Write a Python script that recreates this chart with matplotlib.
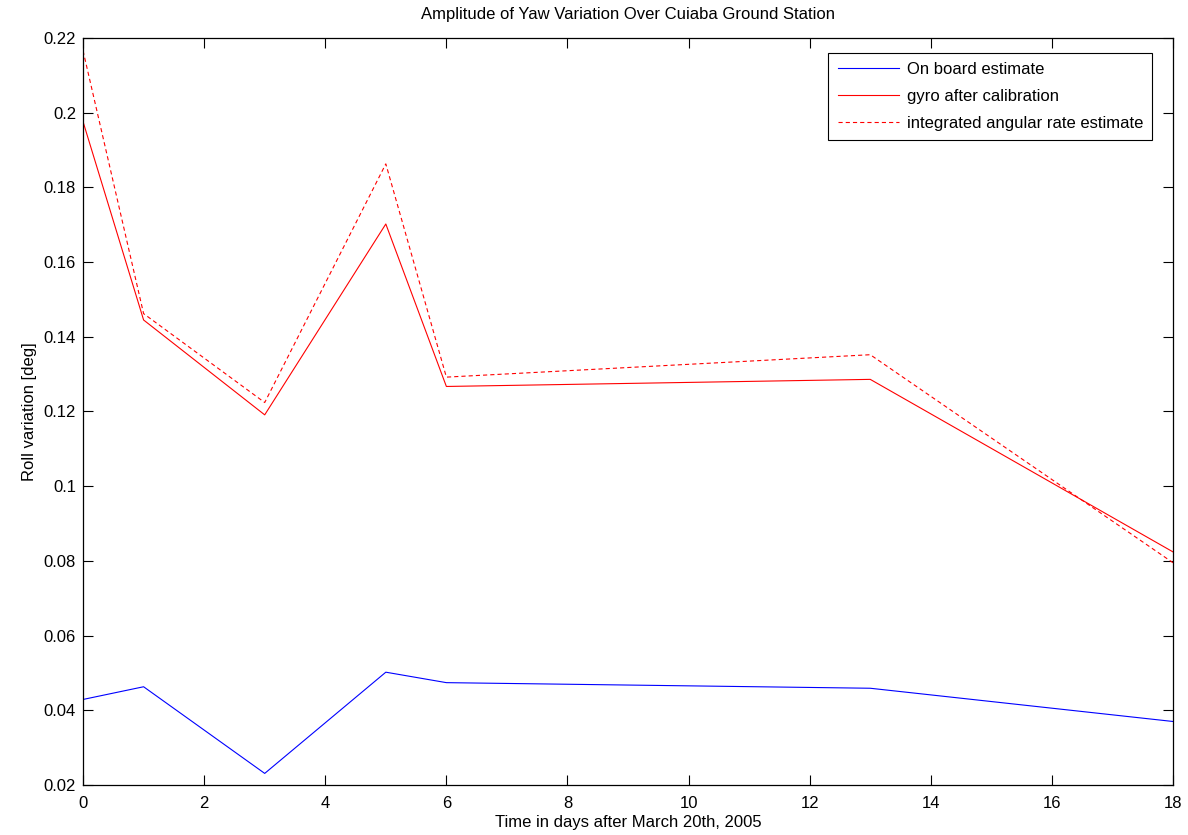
import matplotlib
matplotlib.use("Agg")
import matplotlib.pyplot as plt
import numpy as np

plt.rcParams['font.family'] = ['Liberation Sans', 'DejaVu Sans']
plt.rcParams['font.size'] = 12
plt.rcParams['lines.scale_dashes'] = False

# days after March 20th, 2005
days = [0, 1, 3, 5, 6, 13, 18]
on_board = [0.0429, 0.0463, 0.0231, 0.0502, 0.0474, 0.0459, 0.0370]
gyro_cal = [0.1976, 0.1445, 0.1191, 0.1702, 0.1267, 0.1286, 0.0824]
integrated = [0.2166, 0.1462, 0.1224, 0.1863, 0.1292, 0.1352, 0.0795]

fig = plt.figure(figsize=(11.88, 8.35), dpi=100)
ax = fig.add_axes([0.0699, 0.0599, 0.9175, 0.8946])

ax.plot(days, on_board, color='#0000ff', lw=0.8, label='On board estimate')
ax.plot(days, gyro_cal, color='#ff0000', lw=0.8, label='gyro after calibration')
ax.plot(days, integrated, color='#ff0000', lw=0.8, dashes=(3, 2.2),
        label='integrated angular rate estimate')

ax.set_xlim(0, 18)
ax.set_ylim(0.02, 0.22)
ax.set_xticks(np.arange(0, 19, 2))
ax.set_yticks(np.arange(0.02, 0.221, 0.02))
ax.set_yticklabels(['0.02', '0.04', '0.06', '0.08', '0.1', '0.12', '0.14',
                    '0.16', '0.18', '0.2', '0.22'])
ax.tick_params(direction='in', length=7, width=0.8, top=True, right=True,
               labelsize=12, pad=5, colors='black')
ax.tick_params(axis='x', pad=8)
for s in ax.spines.values():
    s.set_linewidth(0.9)

ax.set_title('Amplitude of Yaw Variation Over Cuiaba Ground Station',
             fontsize=12, pad=14)
ax.set_xlabel('Time in days after March 20th, 2005', fontsize=12, labelpad=3)
ax.set_ylabel('Roll variation [deg]', fontsize=12, labelpad=5)

leg = ax.legend(loc='upper right', bbox_to_anchor=(0.981, 0.98), fontsize=12,
                fancybox=False, framealpha=1, edgecolor='black',
                handlelength=3.7, handletextpad=0.45, labelspacing=0.72,
                borderpad=0.55, borderaxespad=0)
leg.get_frame().set_linewidth(0.8)

fig.savefig('out.png', dpi=100)
